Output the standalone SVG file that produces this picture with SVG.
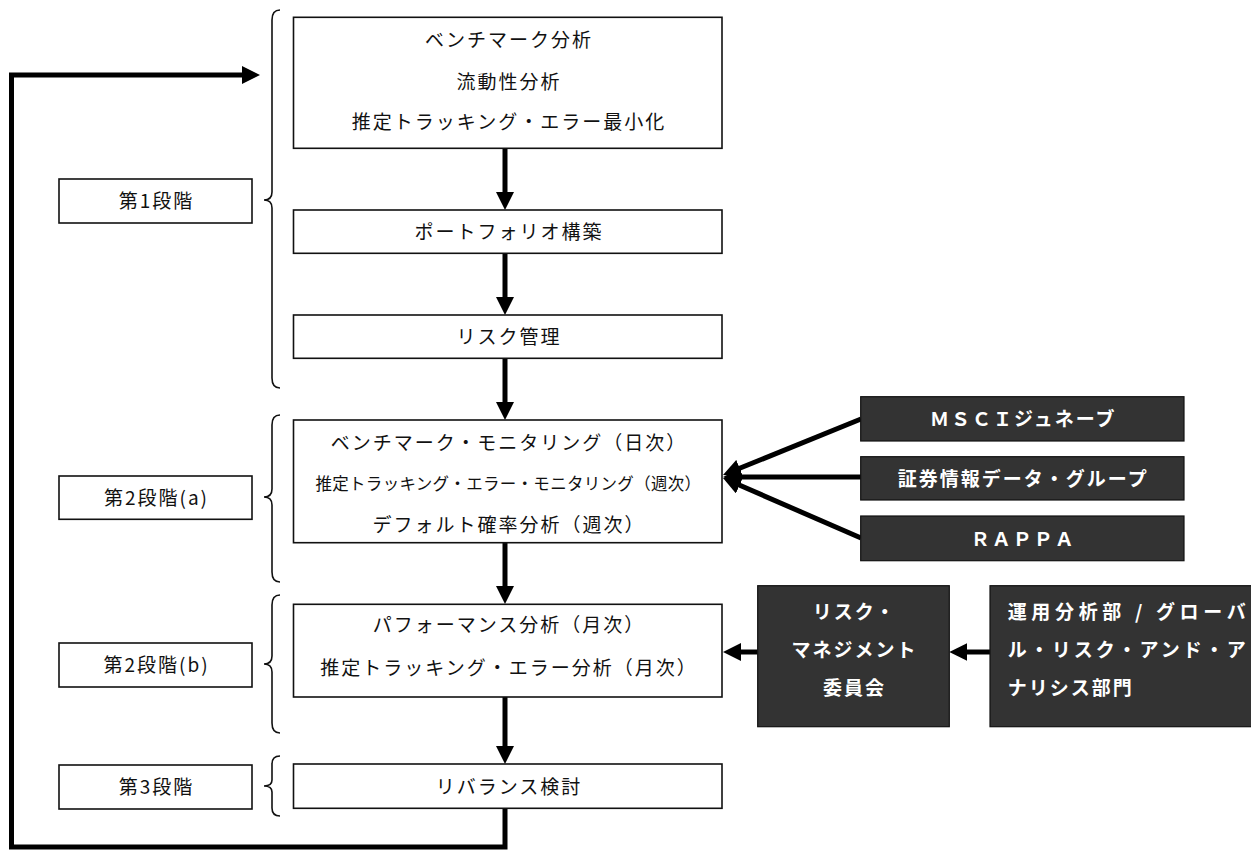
<svg xmlns="http://www.w3.org/2000/svg" width="1251" height="850" viewBox="0 0 1251 850">
<defs>
<style>
.box{fill:#fff;stroke:#111;stroke-width:1.6}
.dark{fill:#333;stroke:#111;stroke-width:1.2}
.t{font-family:"Noto Sans CJK JP","Noto Sans CJK SC",sans-serif;font-size:19px;letter-spacing:2px;fill:#111;text-anchor:middle}
.w{font-family:"Noto Sans CJK JP","Noto Sans CJK SC",sans-serif;font-size:19px;letter-spacing:2px;fill:#fff;font-weight:700;text-anchor:middle}
.brace{fill:none;stroke:#111;stroke-width:1.6}
.conn{fill:none;stroke:#000;stroke-width:5}
</style>
<marker id="ah" viewBox="0 0 18 18" markerUnits="userSpaceOnUse" markerWidth="18" markerHeight="18" refX="6" refY="9" orient="auto">
<path d="M0,0 L18,9 L0,18 z" fill="#000"/>
</marker>
</defs>
<rect width="1251" height="850" fill="#fff"/>

<g id="braces">
<path class="brace" d="M280,10 Q272,10 272,20 L272,192 Q272,200 264,200 Q272,200 272,208 L272,378 Q272,388 280,388"/>
<path class="brace" d="M280,415 Q272,415 272,425 L272,489 Q272,497 264,497 Q272,497 272,505 L272,572 Q272,582 280,582"/>
<path class="brace" d="M280,595 Q272,595 272,605 L272,656 Q272,664 264,664 Q272,664 272,672 L272,723 Q272,733 280,733"/>
<path class="brace" d="M280,756 Q272,756 272,764 L272,780 Q272,786 264,786 Q272,786 272,792 L272,808 Q272,816 280,816"/>
</g>

<g id="connectors">
<line class="conn" x1="505" y1="148" x2="505" y2="198" marker-end="url(#ah)"/>
<line class="conn" x1="505" y1="253" x2="505" y2="303" marker-end="url(#ah)"/>
<line class="conn" x1="505" y1="358" x2="505" y2="408" marker-end="url(#ah)"/>
<line class="conn" x1="505" y1="543" x2="505" y2="592" marker-end="url(#ah)"/>
<line class="conn" x1="505" y1="697" x2="505" y2="752" marker-end="url(#ah)"/>
<polyline class="conn" points="505,808 505,847 11.5,847 11.5,75 248,75" marker-end="url(#ah)"/>
<line class="conn" x1="861" y1="419" x2="734.1" y2="470.5" marker-end="url(#ah)"/>
<line class="conn" x1="861" y1="477" x2="735" y2="477" marker-end="url(#ah)"/>
<line class="conn" x1="861" y1="538" x2="734" y2="482.8" marker-end="url(#ah)"/>
<line class="conn" x1="757.7" y1="652" x2="735" y2="652" marker-end="url(#ah)"/>
<line class="conn" x1="990" y1="652" x2="961.3" y2="652" marker-end="url(#ah)"/>
</g>

<g id="n-benchmark">
<rect class="box" x="293.5" y="17.3" width="428.5" height="131"/>
<text class="t" x="509" y="47">ベンチマーク分析</text>
<text class="t" x="509" y="89">流動性分析</text>
<text class="t" x="509" y="129">推定トラッキング・エラー最小化</text>
</g>
<g id="n-portfolio">
<rect class="box" x="293.5" y="210" width="428.5" height="43.3"/>
<text class="t" x="509" y="239">ポートフォリオ構築</text>
</g>
<g id="n-risk">
<rect class="box" x="293.5" y="315" width="428.5" height="43.3"/>
<text class="t" x="509" y="344">リスク管理</text>
</g>
<g id="n-monitor">
<rect class="box" x="293.5" y="420" width="428.5" height="122.7"/>
<text class="t" x="509" y="450">ベンチマーク・モニタリング（日次）</text>
<text class="t" x="508.4" y="489.5" style="font-size:16.5px;letter-spacing:0.3px">推定トラッキング・エラー・モニタリング（週次）</text>
<text class="t" x="509" y="532">デフォルト確率分析（週次）</text>
</g>
<g id="n-performance">
<rect class="box" x="293.5" y="604.3" width="428.5" height="92.7"/>
<text class="t" x="509" y="632">パフォーマンス分析（月次）</text>
<text class="t" x="509" y="675">推定トラッキング・エラー分析（月次）</text>
</g>
<g id="n-rebalance">
<rect class="box" x="293.5" y="764" width="428.5" height="44.3"/>
<text class="t" x="509" y="794">リバランス検討</text>
</g>

<g id="l-stage1">
<rect class="box" x="59" y="179" width="193" height="44"/>
<text class="t" x="156.5" y="208">第1段階</text>
</g>
<g id="l-stage2a">
<rect class="box" x="59" y="476" width="193" height="43.3"/>
<text class="t" x="156.5" y="504.5">第2段階(a)</text>
</g>
<g id="l-stage2b">
<rect class="box" x="59" y="643" width="193" height="44"/>
<text class="t" x="156.5" y="672">第2段階(b)</text>
</g>
<g id="l-stage3">
<rect class="box" x="59" y="765" width="193" height="44"/>
<text class="t" x="156.5" y="794">第3段階</text>
</g>

<g id="n-msci">
<rect class="dark" x="860.7" y="396.7" width="323.3" height="44.3"/>
<text class="w" x="1023.3" y="426">ＭＳＣＩジュネーブ</text>
</g>
<g id="n-shoken">
<rect class="dark" x="860.7" y="456.7" width="323.3" height="43.3"/>
<text class="w" x="1023.3" y="485.5">証券情報データ・グループ</text>
</g>
<g id="n-rappa">
<rect class="dark" x="860.7" y="516" width="323.3" height="44.7"/>
<text class="w" x="1023.3" y="545.5">ＲＡＰＰＡ</text>
</g>
<g id="n-committee">
<rect class="dark" x="757.7" y="585.7" width="191.6" height="141"/>
<text class="w" x="854.5" y="619">リスク・</text>
<text class="w" x="854.5" y="657">マネジメント</text>
<text class="w" x="854.5" y="695">委員会</text>
</g>
<g id="n-analysis">
<rect class="dark" x="990" y="585.7" width="270" height="141"/>
<text class="w" x="1007.7" y="619" style="text-anchor:start;letter-spacing:0" textLength="238" lengthAdjust="spacing">運用分析部 / グローバ</text>
<text class="w" x="1007.7" y="657" style="text-anchor:start;letter-spacing:0" textLength="238" lengthAdjust="spacing">ル・リスク・アンド・ア</text>
<text class="w" x="1007.7" y="695" style="text-anchor:start">ナリシス部門</text>
</g>
</svg>
